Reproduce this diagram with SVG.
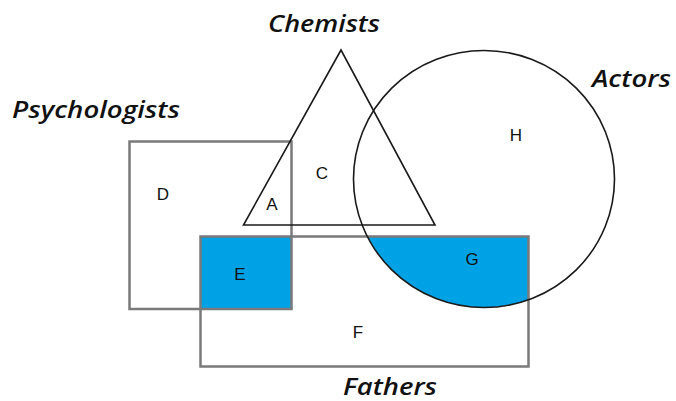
<svg xmlns="http://www.w3.org/2000/svg" width="676" height="401" viewBox="0 0 676 401">
<style>
.box{fill:none;stroke:#7a7a7a;stroke-width:2.5}
.thin{fill:none;stroke:#1a1a1a;stroke-width:1.6}
.blue{fill:#00a2e6}
.set{font-family:"Open Sans","Liberation Sans",sans-serif;font-style:italic;font-weight:600;font-size:24px;fill:#111}
.lab{font-family:"Liberation Sans",Arial,sans-serif;font-size:17px;fill:#111;text-anchor:middle}
</style>
<defs>
<clipPath id="rectClip"><rect x="200.5" y="236.5" width="328" height="130"/></clipPath>
</defs>
<rect width="676" height="401" fill="#fff"/>
<g id="fills">
<rect class="blue" x="200.5" y="236.5" width="91" height="72.5"/>
<ellipse class="blue" cx="484" cy="179" rx="130.5" ry="128.5" clip-path="url(#rectClip)"/>
</g>
<g id="psychologists">
<rect class="box" x="129.5" y="141.5" width="162" height="167.5"/>
<text class="set" x="12" y="118" textLength="168" lengthAdjust="spacingAndGlyphs">Psychologists</text>
</g>
<g id="fathers">
<rect class="box" x="200.5" y="236.5" width="328" height="130"/>
<text class="set" x="343" y="395" textLength="94" lengthAdjust="spacingAndGlyphs">Fathers</text>
</g>
<g id="chemists">
<polygon class="thin" points="341,50 243.5,225 435,225"/>
<text class="set" x="268" y="32" textLength="112" lengthAdjust="spacingAndGlyphs">Chemists</text>
</g>
<g id="actors">
<ellipse class="thin" cx="484" cy="179" rx="130.5" ry="128.5"/>
<text class="set" x="592" y="87" textLength="79" lengthAdjust="spacingAndGlyphs">Actors</text>
</g>
<g id="regions">
<text class="lab" x="163" y="200">D</text>
<text class="lab" x="272" y="210">A</text>
<text class="lab" x="322" y="179">C</text>
<text class="lab" x="516" y="141">H</text>
<text class="lab" x="240" y="280">E</text>
<text class="lab" x="472" y="265">G</text>
<text class="lab" x="358" y="338">F</text>
</g>
</svg>
